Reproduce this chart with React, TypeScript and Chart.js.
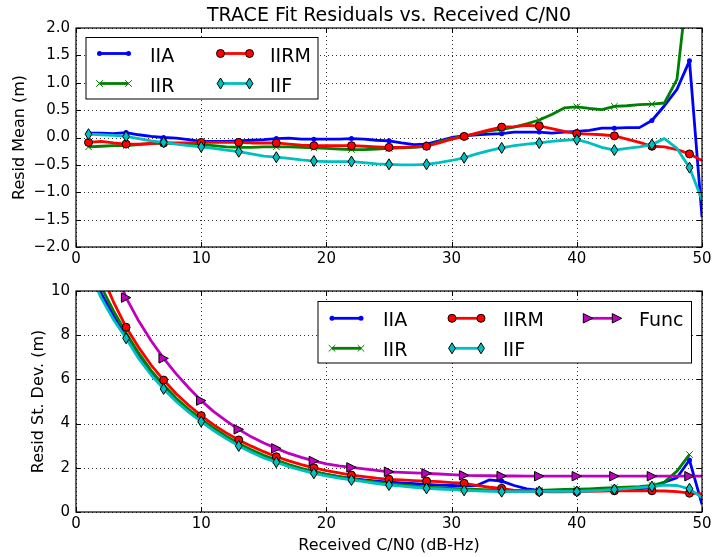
import React, { useEffect, useRef } from 'react';
import { Chart, registerables } from 'chart.js';
Chart.register(...registerables);

const FONT = '"DejaVu Sans", "Liberation Sans", sans-serif';

// ---- data ----
const CN0 = [1,2,3,4,5,6,7,8,9,10,11,12,13,14,15,16,17,18,19,20,21,22,23,24,25,26,27,28,29,30,31,32,33,34,35,36,37,38,39,40,41,42,43,44,45,46,47,48,49,50];

const MEAN_IIA = [0.08,0.08,0.07,0.09,0.05,0.02,0.0,-0.01,-0.04,-0.07, -0.07,-0.07,-0.06,-0.05,-0.04,-0.02,-0.01,-0.03,-0.03,-0.03, -0.03,-0.02,-0.03,-0.05,-0.06,-0.1,-0.13,-0.12,-0.06,0.0, 0.03,0.05,0.06,0.07,0.1,0.1,0.1,0.08,0.1,0.11, 0.13,0.17,0.17,0.18,0.18,0.31,0.58,0.88,1.4,-1.45];
const MEAN_IIR = [-0.17,-0.16,-0.15,-0.15,-0.13,-0.11,-0.1,-0.11,-0.12,-0.13, -0.15,-0.17,-0.18,-0.18,-0.17,-0.17,-0.17,-0.18,-0.19,-0.2, -0.21,-0.22,-0.22,-0.21,-0.2,-0.19,-0.18,-0.16,-0.08,-0.02, 0.02,0.07,0.12,0.15,0.19,0.25,0.32,0.42,0.54,0.56, 0.53,0.51,0.57,0.58,0.6,0.61,0.63,1.06,3.1,null];
const MEAN_IIRM = [-0.09,-0.07,-0.1,-0.12,-0.12,-0.11,-0.1,-0.1,-0.1,-0.09, -0.09,-0.09,-0.09,-0.1,-0.1,-0.1,-0.12,-0.14,-0.15,-0.15, -0.15,-0.15,-0.16,-0.17,-0.18,-0.18,-0.17,-0.16,-0.1,-0.03, 0.02,0.08,0.14,0.19,0.2,0.22,0.21,0.16,0.11,0.07, 0.06,0.05,0.03,-0.03,-0.09,-0.16,-0.17,-0.22,-0.3,-0.42];
const MEAN_IIF = [0.06,0.05,0.04,0.02,-0.02,-0.06,-0.09,-0.12,-0.15,-0.17, -0.2,-0.23,-0.26,-0.3,-0.34,-0.36,-0.38,-0.41,-0.43,-0.44, -0.44,-0.44,-0.46,-0.48,-0.49,-0.5,-0.5,-0.49,-0.46,-0.42, -0.37,-0.3,-0.24,-0.19,-0.15,-0.12,-0.1,-0.07,-0.05,-0.04, -0.1,-0.18,-0.23,-0.2,-0.17,-0.13,-0.02,-0.2,-0.55,-1.14];

const SD_IIA = [11.2,9.9,8.9,7.95,7.1,6.3,5.65,5.05,4.55,4.12, 3.7,3.35,3.03,2.75,2.5,2.3,2.1,1.95,1.82,1.7, 1.6,1.52,1.45,1.4,1.35,1.32,1.28,1.25,1.22,1.2, 1.18,1.2,1.45,1.4,1.2,1.05,0.98,0.96,0.96,0.96, 0.97,0.98,1.0,1.02,1.05,1.1,1.35,1.55,2.35,0.35];
const SD_IIR = [11.5,10.2,9.1,8.1,7.2,6.4,5.75,5.15,4.65,4.2, 3.8,3.43,3.1,2.82,2.57,2.35,2.15,1.98,1.83,1.7, 1.6,1.5,1.42,1.35,1.28,1.23,1.18,1.13,1.1,1.07, 1.04,1.02,1.0,0.98,0.97,0.97,0.98,1.0,1.02,1.03, 1.05,1.08,1.1,1.12,1.15,1.2,1.35,1.85,2.6,null];
const SD_IIRM = [12.4,10.8,9.5,8.36,7.45,6.65,5.97,5.35,4.83,4.36, 3.94,3.58,3.26,2.98,2.73,2.5,2.31,2.14,2.0,1.87, 1.77,1.67,1.6,1.53,1.48,1.45,1.42,1.4,1.37,1.33, 1.3,1.2,1.12,1.07,0.98,0.94,0.92,0.91,0.91,0.92, 0.93,0.95,0.96,0.96,0.96,0.96,0.95,0.92,0.85,0.82];
const SD_IIF = [11.0,9.7,8.7,7.86,6.95,6.2,5.57,5.0,4.52,4.09, 3.68,3.32,2.99,2.7,2.45,2.25,2.05,1.89,1.75,1.63, 1.53,1.45,1.37,1.29,1.22,1.17,1.12,1.07,1.04,1.01, 0.98,0.96,0.94,0.92,0.92,0.92,0.93,0.93,0.93,0.93, 0.95,0.98,1.02,1.06,1.1,1.15,1.22,1.2,1.05,0.65];
const SD_FUNC = [14.0,12.3,11.1,9.7,8.65,7.75,6.95,6.25,5.62,5.04, 4.54,4.12,3.74,3.4,3.12,2.88,2.65,2.47,2.31,2.18, 2.09,2.02,1.95,1.88,1.82,1.79,1.77,1.75,1.72,1.69, 1.66,1.65,1.64,1.63,1.63,1.62,1.62,1.62,1.62,1.62, 1.62,1.62,1.62,1.62,1.62,1.62,1.62,1.62,1.62,1.62];

const X_TICKS_STEP = 10;
const MEAN_RANGE = [-2, 2];
const MEAN_STEP = 0.5;
const SD_RANGE = [0, 10];
const SD_STEP = 2;

const TITLE = 'TRACE Fit Residuals vs. Received C/N0';
const Y1_LABEL = 'Resid Mean (m)';
const Y2_LABEL = 'Resid St. Dev. (m)';
const X_LABEL = 'Received C/N0 (dB-Hz)';

// ---- styles ----
const STY = {
  IIA: { color: '#0000ff', marker: 'dot' },
  IIR: { color: '#008000', marker: 'x' },
  IIRM: { color: '#ff0000', marker: 'o' },
  IIF: { color: '#00bfbf', marker: 'd' },
  Func: { color: '#bf00bf', marker: '>' },
};

function drawMarker(ctx: CanvasRenderingContext2D, kind: string, color: string, x: number, y: number) {
  ctx.save();
  ctx.setLineDash([]);
  ctx.lineWidth = 1;
  ctx.strokeStyle = '#000';
  ctx.fillStyle = color;
  ctx.beginPath();
  if (kind === 'dot') {
    ctx.arc(x, y, 2.5, 0, Math.PI * 2);
    ctx.fill();
  } else if (kind === 'x') {
    const r = 3.3;
    ctx.strokeStyle = color;
    ctx.moveTo(x - r, y - r); ctx.lineTo(x + r, y + r);
    ctx.moveTo(x - r, y + r); ctx.lineTo(x + r, y - r);
    ctx.stroke();
  } else if (kind === 'o') {
    ctx.arc(x, y, 4, 0, Math.PI * 2);
    ctx.fill(); ctx.stroke();
  } else if (kind === 'd') {
    ctx.moveTo(x, y - 5.5); ctx.lineTo(x + 3.4, y); ctx.lineTo(x, y + 5.5); ctx.lineTo(x - 3.4, y); ctx.closePath();
    ctx.fill(); ctx.stroke();
  } else if (kind === '>') {
    ctx.moveTo(x + 4.7, y); ctx.lineTo(x - 4.7, y - 4.7); ctx.lineTo(x - 4.7, y + 4.7); ctx.closePath();
    ctx.fill(); ctx.stroke();
  }
  ctx.restore();
}

function ds(label: string, values: (number | null)[], order: number) {
  const s = (STY as any)[label];
  return {
    label,
    data: CN0.map((x, i) => ({ x, y: values[i] })),
    borderColor: s.color,
    backgroundColor: s.color,
    borderWidth: 2.8,
    borderJoinStyle: 'round',
    pointRadius: 0,
    pointHoverRadius: 0,
    tension: 0,
    clip: 0,
    order,
    marker: s.marker,
  };
}

const markerPlugin = {
  id: 'markers',
  afterDatasetDraw(chart: any, args: any) {
    const d = chart.data.datasets[args.index];
    if (!d.marker) return;
    const a = chart.chartArea;
    const ctx = chart.ctx;
    ctx.save();
    ctx.beginPath();
    ctx.rect(a.left, a.top, a.right - a.left, a.bottom - a.top);
    ctx.clip();
    args.meta.data.forEach((pt: any, i: number) => {
      if (i % 3 !== 0 || pt.skip || !isFinite(pt.y)) return;
      drawMarker(ctx, d.marker, d.borderColor, pt.x, pt.y);
    });
    ctx.restore();
  },
};

const decoPlugin = {
  id: 'deco',
  beforeDatasetsDraw(chart: any) {
    const { ctx, chartArea: a, scales } = chart;
    ctx.save();
    ctx.strokeStyle = 'rgba(0,0,0,0.8)';
    ctx.lineWidth = 1;
    ctx.setLineDash([1, 3]);
    for (const t of scales.x.ticks) {
      const px = Math.round(scales.x.getPixelForValue(t.value)) + 0.5;
      ctx.beginPath(); ctx.moveTo(px, a.top); ctx.lineTo(px, a.bottom); ctx.stroke();
    }
    for (const t of scales.y.ticks) {
      const py = Math.round(scales.y.getPixelForValue(t.value)) + 0.5;
      ctx.beginPath(); ctx.moveTo(a.left, py); ctx.lineTo(a.right, py); ctx.stroke();
    }
    ctx.restore();
  },
  afterDraw(chart: any, _args: any, opts: any) {
    const { ctx, chartArea: a, scales } = chart;
    // legend
    const lg = opts.legend;
    if (lg) {
      ctx.save();
      ctx.fillStyle = '#fff';
      ctx.fillRect(lg.box[0], lg.box[1], lg.box[2], lg.box[3]);
      ctx.strokeStyle = '#000';
      ctx.lineWidth = 1;
      ctx.strokeRect(lg.box[0], lg.box[1], lg.box[2], lg.box[3]);
      for (const e of lg.entries) {
        const s = (STY as any)[e.label];
        ctx.strokeStyle = s.color;
        ctx.lineWidth = 2.8;
        ctx.beginPath(); ctx.moveTo(e.x1, e.y); ctx.lineTo(e.x2, e.y); ctx.stroke();
        drawMarker(ctx, s.marker, s.color, e.x1, e.y);
        drawMarker(ctx, s.marker, s.color, e.x2, e.y);
        ctx.fillStyle = '#000';
        ctx.font = `19px ${FONT}`;
        ctx.textAlign = 'left';
        ctx.textBaseline = 'alphabetic';
        ctx.fillText(e.label, e.tx, e.y + 8);
      }
      ctx.restore();
    }
    // frame & inner ticks
    ctx.save();
    ctx.strokeStyle = '#000';
    ctx.lineWidth = 1.2;
    ctx.setLineDash([]);
    ctx.strokeRect(a.left, a.top, a.right - a.left, a.bottom - a.top);
    ctx.lineWidth = 1;
    const tl = 5;
    for (const t of scales.x.ticks) {
      const px = Math.round(scales.x.getPixelForValue(t.value)) + 0.5;
      ctx.beginPath();
      ctx.moveTo(px, a.bottom); ctx.lineTo(px, a.bottom - tl);
      ctx.moveTo(px, a.top); ctx.lineTo(px, a.top + tl);
      ctx.stroke();
    }
    for (const t of scales.y.ticks) {
      const py = Math.round(scales.y.getPixelForValue(t.value)) + 0.5;
      ctx.beginPath();
      ctx.moveTo(a.left, py); ctx.lineTo(a.left + tl, py);
      ctx.moveTo(a.right, py); ctx.lineTo(a.right - tl, py);
      ctx.stroke();
    }
    ctx.restore();
    // texts
    for (const tx of opts.texts || []) {
      ctx.save();
      ctx.fillStyle = '#000';
      ctx.font = `${tx.size}px ${FONT}`;
      ctx.textAlign = 'center';
      ctx.textBaseline = 'alphabetic';
      ctx.translate(tx.x, tx.y);
      if (tx.rot) ctx.rotate(-Math.PI / 2);
      ctx.fillText(tx.text, 0, 0);
      ctx.restore();
    }
  },
};

const fmtMinus = (v: number, dec: number) => {
  const s = v.toFixed(dec);
  return s.startsWith('-') ? '\u2212' + s.slice(1) : s;
};

function makeConfig(datasets: any[], yMin: number, yMax: number, yStep: number, dec: number, padTop: number, xHeight: number, deco: any) {
  const tickFont = { family: FONT, size: 15 };
  return {
    type: 'line',
    data: { datasets },
    options: {
      animation: false,
      responsive: false,
      maintainAspectRatio: false,
      events: [],
      layout: { padding: { left: 0, right: 10, top: padTop, bottom: 0 } },
      plugins: { legend: { display: false }, tooltip: { enabled: false }, title: { display: false }, deco },
      scales: {
        x: {
          type: 'linear', min: 0, max: 50,
          ticks: { stepSize: X_TICKS_STEP, padding: 3, font: tickFont, color: '#000', maxRotation: 0, autoSkip: false },
          grid: { display: false, drawTicks: false },
          border: { display: false },
          afterFit: (s: any) => { s.height = xHeight; s.paddingLeft = 0; s.paddingRight = 0; },
        },
        y: {
          type: 'linear', min: yMin, max: yMax,
          ticks: { stepSize: yStep, padding: 6, font: tickFont, color: '#000', autoSkip: false, callback: (v: number) => fmtMinus(v, dec) },
          grid: { display: false, drawTicks: false },
          border: { display: false },
          afterFit: (s: any) => { s.width = 76; s.paddingTop = 0; s.paddingBottom = 0; },
        },
      },
    },
    plugins: [decoPlugin, markerPlugin],
  } as any;
}

const TOP_H = 275;
const BOT_H = 282;

export default function App() {
  const topRef = useRef<HTMLCanvasElement>(null);
  const botRef = useRef<HTMLCanvasElement>(null);

  useEffect(() => {
    const topDeco = {
      legend: {
        box: [86, 37.5, 232, 61.5],
        entries: [
          { label: 'IIA', x1: 99.5, x2: 128.5, tx: 150, y: 53.5 },
          { label: 'IIR', x1: 99.5, x2: 128.5, tx: 150, y: 83.5 },
          { label: 'IIRM', x1: 220.5, x2: 249.5, tx: 270, y: 53.5 },
          { label: 'IIF', x1: 220.5, x2: 249.5, tx: 270, y: 83.5 },
        ],
      },
      texts: [
        { text: TITLE, x: 389, y: 20.5, size: 19 },
        { text: Y1_LABEL, x: 24, y: 137.5, size: 16, rot: true },
      ],
    };
    const o = TOP_H;
    const botDeco = {
      legend: {
        box: [318, 301.5 - o, 373.5, 61.5],
        entries: [
          { label: 'IIA', x1: 332, x2: 361, tx: 383, y: 318.3 - o },
          { label: 'IIR', x1: 332, x2: 361, tx: 383, y: 348.3 - o },
          { label: 'IIRM', x1: 452, x2: 481, tx: 503, y: 318.3 - o },
          { label: 'IIF', x1: 452, x2: 481, tx: 503, y: 348.3 - o },
          { label: 'Func', x1: 588, x2: 617, tx: 639, y: 318.3 - o },
        ],
      },
      texts: [
        { text: Y2_LABEL, x: 42.5, y: 401.5 - o, size: 16, rot: true },
        { text: X_LABEL, x: 389, y: 550 - o, size: 16 },
      ],
    };
    const top = new Chart(topRef.current as any, makeConfig([
      ds('IIA', MEAN_IIA, 5), ds('IIR', MEAN_IIR, 4), ds('IIRM', MEAN_IIRM, 3), ds('IIF', MEAN_IIF, 2),
    ], MEAN_RANGE[0], MEAN_RANGE[1], MEAN_STEP, 1, 28, TOP_H - 247, topDeco));
    const bot = new Chart(botRef.current as any, makeConfig([
      ds('IIA', SD_IIA, 5), ds('IIR', SD_IIR, 4), ds('IIRM', SD_IIRM, 3), ds('IIF', SD_IIF, 2), ds('Func', SD_FUNC, 1),
    ], SD_RANGE[0], SD_RANGE[1], SD_STEP, 0, 291 - TOP_H, BOT_H - (512 - TOP_H), botDeco));
    return () => { top.destroy(); bot.destroy(); };
  }, []);

  return (
    <div style={{ position: 'fixed', left: 0, top: 0, width: 712, height: 557, background: '#fff' }}>
      <canvas ref={topRef} width={712} height={TOP_H} style={{ position: 'absolute', left: 0, top: 0, width: 712, height: TOP_H }} />
      <canvas ref={botRef} width={712} height={BOT_H} style={{ position: 'absolute', left: 0, top: TOP_H, width: 712, height: BOT_H }} />
    </div>
  );
}
